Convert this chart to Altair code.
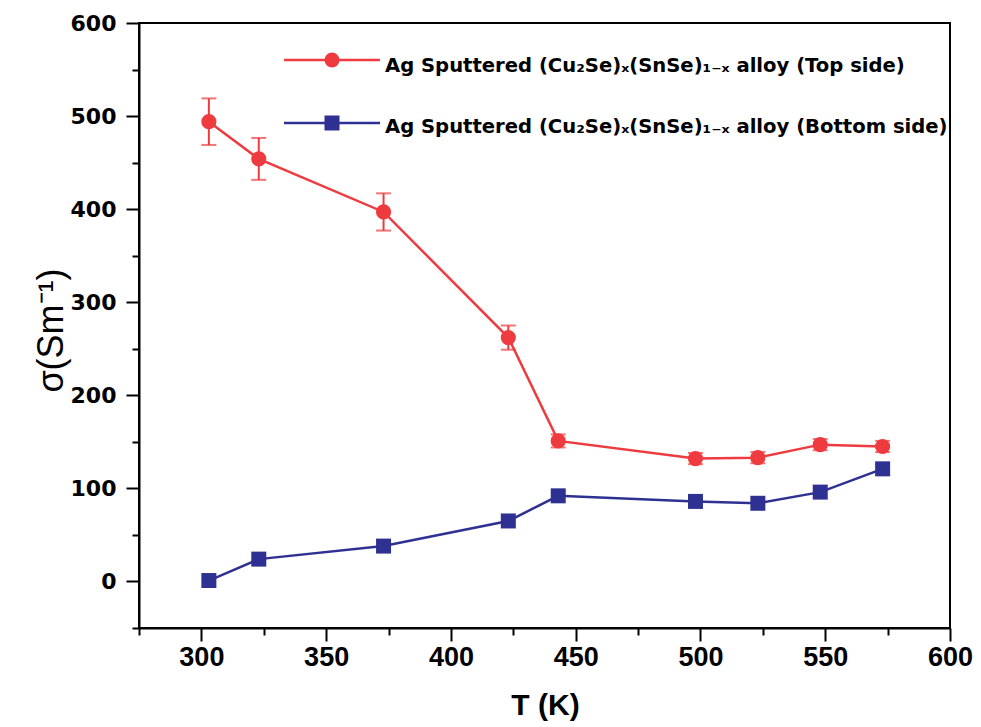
import altair as alt
import pandas as pd

# ---- data ----
T = [303, 323, 373, 423, 443, 498, 523, 548, 573]
sigma_top = [494, 454, 397, 262, 151, 132, 133, 147, 145]
err_top = [25, 22.5, 20, 13, 7, 6, 6, 6, 6]
sigma_bottom = [1, 24, 38, 65, 92, 86, 84, 96, 121]

legend_labels = [
    "Ag Sputtered (Cu\u2082Se)\u2093(SnSe)\u2081\u208b\u2093 alloy (Top side)",
    "Ag Sputtered (Cu\u2082Se)\u2093(SnSe)\u2081\u208b\u2093 alloy (Bottom side)",
]
x_major = [300, 350, 400, 450, 500, 550, 600]
x_minor = [275, 325, 375, 425, 475, 525, 575]
y_major = [0, 100, 200, 300, 400, 500, 600]
y_minor = [-50, 50, 150, 250, 350, 450, 550]

RED = "#EE3B3F"
BLUE = "#2E3192"

df_top = pd.DataFrame({
    "T": T,
    "sigma": sigma_top,
    "lo": [s - e for s, e in zip(sigma_top, err_top)],
    "hi": [s + e for s, e in zip(sigma_top, err_top)],
})
df_bot = pd.DataFrame({"T": T, "sigma": sigma_bottom})

xs = alt.Scale(domain=[275, 600], nice=False, zero=False)
ys = alt.Scale(domain=[-50, 600], nice=False, zero=False)

major_x = alt.Axis(
    orient="bottom", values=x_major, grid=False,
    domainColor="black", domainWidth=2,
    tickColor="black", tickWidth=2, tickSize=13,
    labelFont="Liberation Sans", labelFontWeight="bold", labelFontSize=27,
    labelColor="black", labelPadding=3, labelFlush=False, labelOverlap=False,
    title="T (K)", titleFont="Liberation Sans", titleFontWeight="bold",
    titleFontSize=30, titleColor="black", titleX=406, titleY=86,
    titleAlign="center", titleBaseline="alphabetic",
)
major_y = alt.Axis(
    orient="left", values=y_major, grid=False,
    domainColor="black", domainWidth=2,
    tickColor="black", tickWidth=2, tickSize=13,
    labelFont="DejaVu Sans", labelFontWeight="bold", labelFontSize=22,
    labelColor="black", labelPadding=10, labelFlush=False, labelOverlap=False,
    title="\u03c3(Sm\u207b\u00b9)", titleFont="Liberation Sans",
    titleFontWeight="normal", titleFontSize=36, titleColor="black",
    titleAngle=270, titleX=-77, titleY=307,
    titleAlign="center", titleBaseline="alphabetic",
)
minor_x = alt.Axis(
    orient="bottom", values=x_minor, grid=False, domain=False,
    tickColor="black", tickWidth=2, tickSize=7, labels=False, title="",
)
minor_y = alt.Axis(
    orient="left", values=y_minor, grid=False, domain=False,
    tickColor="black", tickWidth=2, tickSize=7, labels=False, title="",
)

top_line = alt.Chart(df_top).mark_line(color=RED, strokeWidth=2.5).encode(
    x=alt.X("T:Q", scale=xs, axis=major_x),
    y=alt.Y("sigma:Q", scale=ys, axis=major_y),
)
minor_layer = alt.Chart(df_top).mark_point(opacity=0).encode(
    x=alt.X("T:Q", scale=xs, axis=minor_x),
    y=alt.Y("sigma:Q", scale=ys, axis=minor_y),
)
err_rule = alt.Chart(df_top).mark_rule(color=RED, strokeWidth=2).encode(
    x=alt.X("T:Q", scale=xs, axis=None),
    y=alt.Y("lo:Q", scale=ys, axis=None),
    y2="hi:Q",
)
cap_lo = alt.Chart(df_top).mark_tick(color=RED, orient="horizontal", size=15, thickness=2).encode(
    x=alt.X("T:Q", scale=xs, axis=None),
    y=alt.Y("lo:Q", scale=ys, axis=None),
)
cap_hi = alt.Chart(df_top).mark_tick(color=RED, orient="horizontal", size=15, thickness=2).encode(
    x=alt.X("T:Q", scale=xs, axis=None),
    y=alt.Y("hi:Q", scale=ys, axis=None),
)
top_pts = alt.Chart(df_top).mark_point(shape="circle", filled=True, size=230, color=RED, opacity=1).encode(
    x=alt.X("T:Q", scale=xs, axis=None),
    y=alt.Y("sigma:Q", scale=ys, axis=None),
)
bot_line = alt.Chart(df_bot).mark_line(color=BLUE, strokeWidth=2.5).encode(
    x=alt.X("T:Q", scale=xs, axis=None),
    y=alt.Y("sigma:Q", scale=ys, axis=None),
)
bot_pts = alt.Chart(df_bot).mark_point(shape="square", filled=True, size=225, color=BLUE, opacity=1).encode(
    x=alt.X("T:Q", scale=xs, axis=None),
    y=alt.Y("sigma:Q", scale=ys, axis=None),
)

# ---- in-plot legend ----
leg1 = pd.DataFrame({"label": [legend_labels[0]]})
leg2 = pd.DataFrame({"label": [legend_labels[1]]})

def legend_row(df, color, shape, y_line, y_text):
    r = alt.Chart(df).mark_rule(color=color, strokeWidth=2.5).encode(
        x=alt.value(145), x2=alt.value(241), y=alt.value(y_line))
    p = alt.Chart(df).mark_point(shape=shape, filled=True, size=225, color=color, opacity=1).encode(
        x=alt.value(193), y=alt.value(y_line))
    t = alt.Chart(df).mark_text(align="left", baseline="alphabetic", font="DejaVu Sans",
                                fontWeight="bold", fontSize=19.6, color="black").encode(
        x=alt.value(246), y=alt.value(y_text), text="label:N")
    return [r, p, t]

legend_layers = legend_row(leg1, RED, "circle", 37, 49) + legend_row(leg2, BLUE, "square", 100, 110)

chart = alt.layer(
    top_line, minor_layer, err_rule, cap_lo, cap_hi, top_pts, bot_line, bot_pts,
    *legend_layers
).resolve_axis(x="independent", y="independent").properties(
    width=811, height=605,
    padding={"left": 139, "top": 23, "right": 31, "bottom": 99},
    autosize=alt.AutoSizeParams(type="none"),
    background="white",
).configure_view(stroke="black", strokeWidth=2)

chart.save("out.html", embed_options={"renderer": "svg", "actions": False})
